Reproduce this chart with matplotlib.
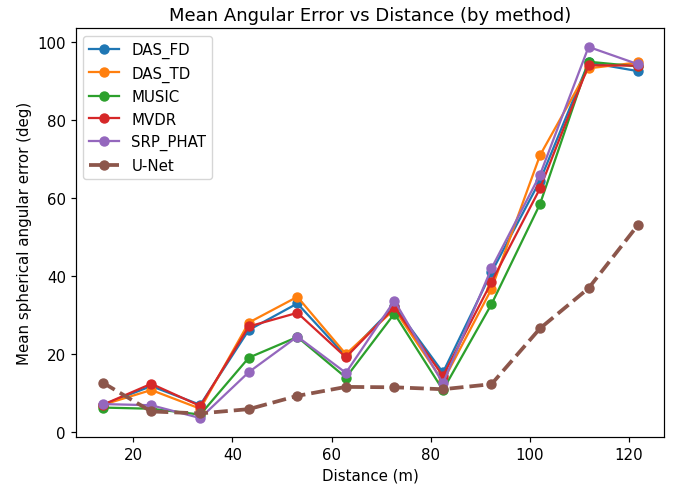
import matplotlib
matplotlib.use("Agg")
import matplotlib.pyplot as plt

distance = [13.8, 23.6, 33.5, 43.3, 53.1, 62.9, 72.7, 82.5, 92.3, 102.1, 111.9, 121.8]

das_fd = [7.0, 11.8, 7.0, 26.2, 33.0, 19.5, 32.3, 15.3, 41.0, 64.5, 94.8, 92.6]
das_td = [7.0, 10.8, 6.0, 28.1, 34.7, 20.0, 31.5, 13.0, 36.7, 71.0, 93.3, 94.8]
music = [6.3, 6.0, 4.5, 19.1, 24.4, 14.0, 30.4, 10.8, 32.8, 58.5, 95.0, 93.8]
mvdr = [7.0, 12.4, 6.7, 27.1, 30.6, 19.2, 32.0, 14.4, 38.5, 62.5, 94.1, 94.0]
srp_phat = [7.2, 6.9, 3.6, 15.4, 24.5, 15.2, 33.7, 12.5, 42.0, 66.0, 98.8, 94.4]
unet = [12.7, 5.3, 4.8, 5.9, 9.3, 11.6, 11.5, 11.0, 12.3, 26.6, 36.9, 53.0]

series = [("DAS_FD", das_fd), ("DAS_TD", das_td), ("MUSIC", music),
          ("MVDR", mvdr), ("SRP_PHAT", srp_phat)]

s = 1.08
plt.rcParams.update({
    "font.size": 10 * s,
    "axes.linewidth": 0.8 * s,
    "xtick.major.size": 3.5 * s,
    "ytick.major.size": 3.5 * s,
    "xtick.major.width": 0.8 * s,
    "ytick.major.width": 0.8 * s,
})

fig, ax = plt.subplots(figsize=(6.81, 4.89), dpi=100)
for name, vals in series:
    ax.plot(distance, vals, marker="o", linewidth=1.5 * s, markersize=6 * s, label=name)
ax.plot(distance, unet, marker="o", linestyle="--", linewidth=2.5 * s, markersize=6 * s,
        label="U-Net", color="#8c564b")

ax.set_title("Mean Angular Error vs Distance (by method)")
ax.set_xlabel("Distance (m)")
ax.set_ylabel("Mean spherical angular error (deg)")
ax.legend(loc="upper left")
fig.subplots_adjust(left=0.1116, right=0.9755, top=0.940, bottom=0.105)
fig.savefig("out.png")
